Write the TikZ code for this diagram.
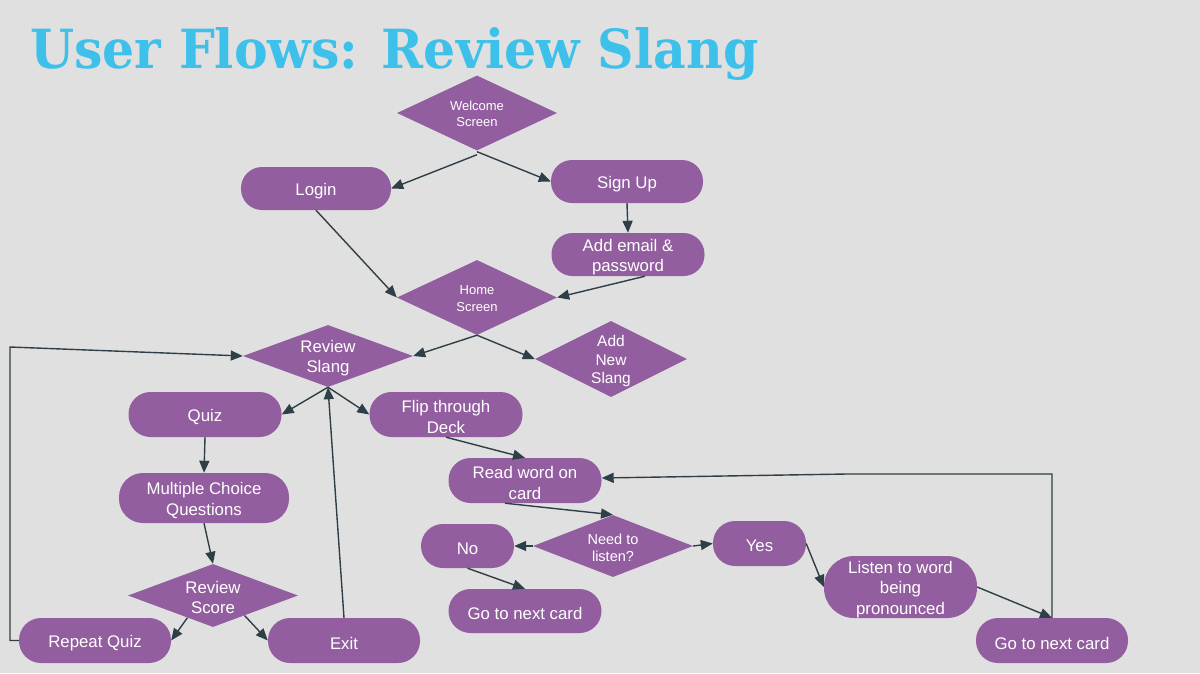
\documentclass[tikz,border=0pt]{standalone}
\usepackage{fontspec}
\setmainfont{Liberation Sans}
\newfontfamily\titlefont{DejaVu Serif}
\usetikzlibrary{shapes.geometric,arrows.meta,calc}
\definecolor{bg}{HTML}{E0E0E0}
\definecolor{purp}{HTML}{935E9F}
\definecolor{lnc}{HTML}{2F3F47}
\definecolor{ttl}{HTML}{3DC1EB}
\tikzset{
  blab/.style={text=white, align=center, inner sep=0pt, yshift=-2.5pt, font=\fontsize{16.8}{20.5}\selectfont},
  box/.style={rectangle, rounded corners=22pt, fill=purp, inner sep=0pt,
    minimum width=153pt, minimum height=45pt, label={[blab]center:#1}},
  dia/.style={diamond, fill=purp, inner sep=0pt},
  dlab/.style={text=white, align=center, inner sep=0pt, yshift=-2pt, font=\fontsize{16.8}{20.5}\selectfont},
  dlabs/.style={text=white, align=center, inner sep=0pt, yshift=-1pt, font=\fontsize{13}{16.5}\selectfont},
  arr/.style={draw=lnc, line width=1.4pt, -{Triangle[length=12pt,width=10pt]}},
}
\begin{document}
\begin{tikzpicture}[x=1pt,y=-1pt]
\fill[bg] (0,0) rectangle (1200,673);
\useasboundingbox (0,0) rectangle (1200,673);

\node[anchor=base west, inner sep=0pt, text=ttl] (title) at (30,68)
  {\resizebox{728pt}{41pt}{\titlefont\bfseries User Flows: Review Slang}};

% diamonds
\node[dia, minimum width=160pt, minimum height=75pt,
  label={[dlabs]center:Welcome\\Screen}] (welcome) at (477,113) {};
\node[dia, minimum width=160pt, minimum height=75pt,
  label={[dlabs]center:Home\\Screen}] (home) at (477,297.5) {};
\node[dia, minimum width=170pt, minimum height=62pt,
  label={[dlab]center:Review\\Slang}] (review) at (328,356) {};
\node[dia, minimum width=152pt, minimum height=76pt,
  label={[dlab,font=\fontsize{15.5}{18.3}\selectfont]center:Add\\New\\Slang}] (addnew) at (611,359) {};
\node[dia, minimum width=170pt, minimum height=63pt,
  label={[dlab]center:Review\\Score}] (score) at (213,595.5) {};
\node[dia, minimum width=160pt, minimum height=62pt,
  label={[dlab,font=\fontsize{14.5}{17.5}\selectfont]center:Need to\\listen?}] (need) at (613,546) {};

% rounded boxes
\node[box=Login, minimum width=150pt, minimum height=43pt, rounded corners=21pt] (login) at (316,188.5) {};
\node[box=Sign Up, minimum width=152pt, minimum height=43pt, rounded corners=21pt] (signup) at (627,181.5) {};
\node[box={Add email \&\\password}, minimum width=153pt, minimum height=43pt, rounded corners=21pt] (addemail) at (628,254.5) {};
\node[box=Quiz] (quiz) at (205,414.5) {};
\node[box={Flip through\\Deck}] (flip) at (446,414.5) {};
\node[box={Multiple Choice\\Questions}, minimum width=170pt, minimum height=50pt, rounded corners=24pt] (mcq) at (204,498) {};
\node[box=Repeat Quiz, minimum width=152pt] (repeat) at (95,640.5) {};
\node[box=Exit, minimum width=152pt] (exit) at (344,640.5) {};
\node[box={Read word on\\card}] (read) at (525,480.5) {};
\node[box=No, minimum width=93pt, minimum height=44pt] (no) at (467.5,546) {};
\node[box=Go to next card, minimum height=44pt] (next1) at (525,611) {};
\node[box=Yes, minimum width=93pt] (yes) at (759.5,543.5) {};
\node[box={Listen to word\\being\\pronounced}, minimum height=62pt, rounded corners=30pt] (listen) at (900.5,587) {};
\node[box=Go to next card, minimum width=152pt] (next2) at (1052,640.5) {};

% waypoints
\coordinate (lp) at (10,347);
\coordinate (rt) at (1052,474);
\coordinate (rm) at (847,474);

% connectors
\draw[arr] ([yshift=-4pt]welcome.south) -- (login.east);
\draw[arr] ([yshift=-1pt]welcome.south) -- (signup.west);
\draw[arr] (signup.south) -- (addemail.north);
\draw[arr] (login.south) -- (home.west);
\draw[arr] ([xshift=17pt]addemail.south) -- (home.east);
\draw[arr] (home.south) -- (review.east);
\draw[arr] (home.south) -- (addnew.west);
\draw[arr] (review.south) -- (quiz.east);
\draw[arr] (review.south) -- (flip.west);
\draw[arr] (exit.north) -- (review.south);
\draw[arr] (quiz.south) -- (mcq.north);
\draw[arr] (mcq.south) -- (score.north);
\draw[arr] ($(score.south)!0.3!(score.west)$) -- (repeat.east);
\draw[arr] ($(score.south)!0.37!(score.east)$) -- (exit.west);
\draw[arr] (repeat.west) -| (lp) -- (review.west);
\draw[arr] (flip.south) -- (read.north);
\draw[arr] ([xshift=-20pt]read.south) -- (need.north);
\draw[arr] (need.west) -- (no.east);
\draw[arr] (need.east) -- (yes.west);
\draw[arr] (no.south) -- (next1.north);
\draw[arr] (yes.east) -- (listen.west);
\draw[arr] (listen.east) -- (next2.north);
\draw[arr] (next2.north) -- (rt) -- (rm) -- ([yshift=2.5pt]read.east);
\end{tikzpicture}
\end{document}
